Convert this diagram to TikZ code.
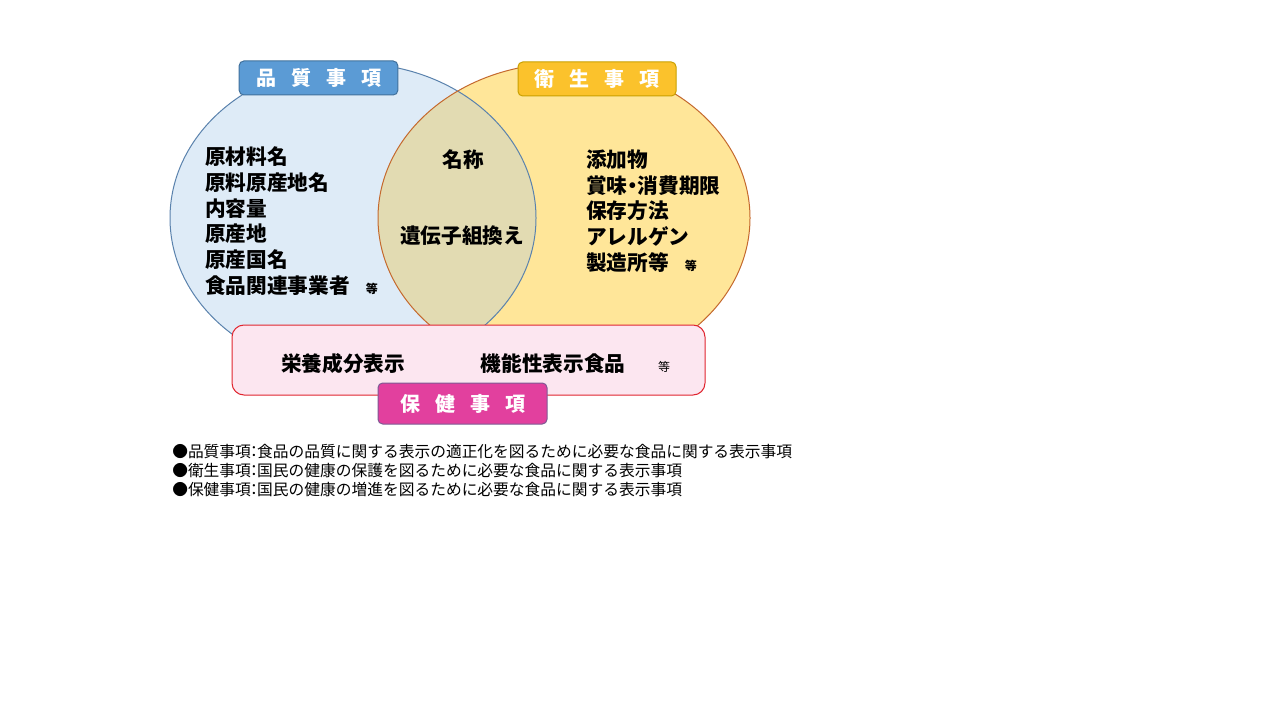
\documentclass[tikz,border=0pt]{standalone}
\usepackage{fontspec}
\setmainfont{Noto Sans CJK JP}
\usetikzlibrary{shapes.geometric}
\definecolor{qfill}{HTML}{DEEBF7}
\definecolor{qline}{HTML}{5A82AD}
\definecolor{efill}{HTML}{FFE699}
\definecolor{eline}{HTML}{C4692E}
\definecolor{both}{HTML}{E2DBB2}
\definecolor{qlab}{HTML}{5B9BD5}
\definecolor{qlabline}{HTML}{41719C}
\definecolor{elab}{HTML}{FBC22C}
\definecolor{elabline}{HTML}{C9A000}
\definecolor{hlab}{HTML}{E2409E}
\definecolor{hlabline}{HTML}{7E5A94}
\definecolor{hfill}{HTML}{FCE6F0}
\definecolor{hline}{HTML}{E0252F}
\tikzset{
  listtext/.style={font=\fontsize{15.5}{19.3}\selectfont\bfseries, align=left, inner sep=0pt, text=black},
  midtext/.style={font=\fontsize{15.5}{19.3}\selectfont\bfseries, inner sep=0pt, text=black},
  labelbox/.style={rounded corners=3.5pt, line width=0.75pt, text=white, inner sep=0pt,
    font=\fontsize{15}{15}\selectfont\bfseries},
  notetext/.style={font=\fontsize{11.8}{14.25}\selectfont, align=left, inner sep=0pt, anchor=west}
}
\newcommand{\tosmall}{\fontsize{9}{9}\selectfont 等}
\newcommand{\ncolon}{\kern-0.3em：\kern-0.3em}
\newcommand{\ndot}{\kern-0.25em・\kern-0.25em}
\begin{document}
\begin{tikzpicture}[x=0.75pt,y=-0.75pt]
\useasboundingbox (0,0) rectangle (1280,720);
\fill[white] (0,0) rectangle (1280,720);
% ellipses
\coordinate (qc) at (353,218);
\coordinate (ec) at (564,218);
\fill[qfill] (qc) ellipse [x radius=137.25pt, y radius=116pt];
\fill[efill] (ec) ellipse [x radius=139.5pt, y radius=116pt];
\begin{scope}
  \clip (qc) ellipse [x radius=137.25pt, y radius=116pt];
  \fill[both] (ec) ellipse [x radius=139.5pt, y radius=116pt];
\end{scope}
\draw[qline, line width=0.75pt] (qc) ellipse [x radius=137.25pt, y radius=116pt];
\draw[eline, line width=0.75pt] (ec) ellipse [x radius=139.5pt, y radius=116pt];
% label boxes top
\node[labelbox, fill=qlab, draw=qlabline, minimum width=119pt, minimum height=25.5pt] (qlabel) at (318.5,78)
  {品\hspace{0.75em}質\hspace{0.75em}事\hspace{0.75em}項};
\node[labelbox, fill=elab, draw=elabline, minimum width=118.5pt, minimum height=25.5pt] (elabel) at (597,79)
  {衛\hspace{0.75em}生\hspace{0.75em}事\hspace{0.75em}項};
% left list
\node[listtext, anchor=west] (qlist) at (205,221)
  {原材料名\\原料原産地名\\内容量\\原産地\\原産国名\\食品関連事業者\hspace{12pt}\tosmall};
% middle
\node[midtext] (name) at (463,160) {名称};
\node[midtext] (gmo) at (462,236) {遺伝子組換え};
% right list
\node[listtext, anchor=west] (elist) at (586,211)
  {添加物\\賞味\ndot 消費期限\\保存方法\\アレルゲン\\製造所等\hspace{12pt}\tosmall};
% bottom box
\node[draw=hline, fill=hfill, line width=0.75pt, rounded corners=9pt, minimum width=354.75pt, minimum height=52.5pt, inner sep=0pt] (hbox) at (468.5,360) {};
\node[midtext] (eiyo) at (343,364) {栄養成分表示};
\node[midtext] (kino) at (553,364) {機能性表示食品};
\node[inner sep=0pt, font=\fontsize{9}{9}\selectfont] (hto) at (664,367) {等};
\node[labelbox, fill=hlab, draw=hlabline, minimum width=126.75pt, minimum height=30.75pt] (hlabel) at (462.5,403.5)
  {保\hspace{0.75em}健\hspace{0.75em}事\hspace{0.75em}項};
% notes
\node[notetext] (n1) at (172,452) {●品質事項\ncolon 食品の品質に関する表示の適正化を図るために必要な食品に関する表示事項};
\node[notetext] (n2) at (172,471) {●衛生事項\ncolon 国民の健康の保護を図るために必要な食品に関する表示事項};
\node[notetext] (n3) at (172,490) {●保健事項\ncolon 国民の健康の増進を図るために必要な食品に関する表示事項};
\end{tikzpicture}
\end{document}
